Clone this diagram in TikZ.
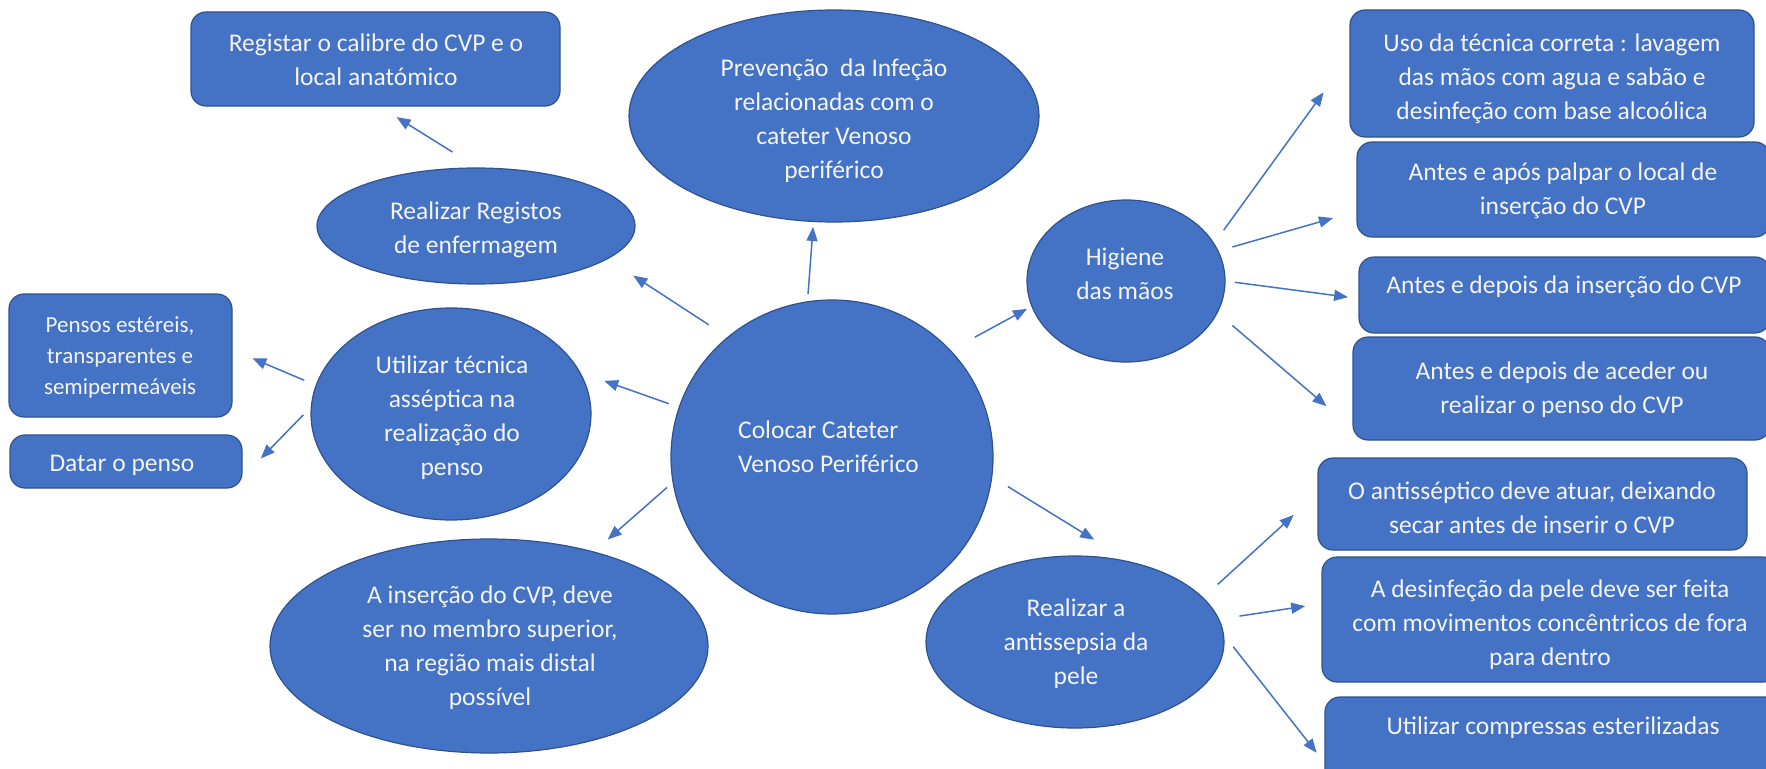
\documentclass[tikz,border=0pt]{standalone}
\usepackage{fontspec}
\setmainfont{Carlito}
\usetikzlibrary{shapes.geometric,arrows.meta}
\definecolor{fillblue}{HTML}{4472C4}
\definecolor{edgeblue}{HTML}{2F528F}
\definecolor{txtwhite}{HTML}{F4F4F4}
\tikzset{
  oval/.style={ellipse,draw=edgeblue,fill=fillblue,line width=1.2pt,inner sep=0pt,outer sep=0pt},
  rbox/.style={rectangle,rounded corners=15pt,draw=edgeblue,fill=fillblue,line width=1.2pt,inner sep=0pt,outer sep=0pt},
  tx/.style={align=center,text=txtwhite,inner sep=0pt,font=\fontsize{25.5}{34}\selectfont},
  txs/.style={align=center,text=txtwhite,inner sep=0pt,font=\fontsize{23}{31}\selectfont},
  arr/.style={draw=fillblue,line width=1.5pt,-{Triangle[length=14pt,width=11pt]}}
}
\begin{document}
\begin{tikzpicture}[x=1pt,y=-1pt]
\useasboundingbox[fill=white] (0,0) rectangle (1766,768);
% ellipses
\node[oval,minimum width=410pt,minimum height=212pt] (prev) at (834,116) {};
\node[oval,minimum width=318pt,minimum height=116pt] (registos) at (476,226) {};
\node[oval,minimum width=280pt,minimum height=212pt] (utilizar) at (451,414) {};
\node[oval,minimum width=322pt,minimum height=314pt] (central) at (832,457) {};
\node[oval,minimum width=438pt,minimum height=214pt] (ainsercao) at (489,646) {};
\node[oval,minimum width=198pt,minimum height=162pt] (higiene) at (1126,281) {};
\node[oval,minimum width=298pt,minimum height=172pt] (antissepsia) at (1075,642) {};
% boxes
\node[rbox,minimum width=369pt,minimum height=94pt] (regbox) at (375.5,59) {};
\node[rbox,minimum width=223pt,minimum height=123pt] (pensos) at (120.5,355.5) {};
\node[rbox,minimum width=232pt,minimum height=53pt] (datar) at (126,461.5) {};
\node[rbox,minimum width=404pt,minimum height=127pt] (uso) at (1552,73.5) {};
\node[rbox,minimum width=413pt,minimum height=95pt] (apos) at (1563.5,189.5) {};
\node[rbox,minimum width=411pt,minimum height=76pt] (insercao) at (1564.5,295) {};
\node[rbox,minimum width=417pt,minimum height=103pt] (aceder) at (1561.5,388.5) {};
\node[rbox,minimum width=429pt,minimum height=92pt] (antisseptico) at (1532.5,504) {};
\node[rbox,minimum width=456pt,minimum height=125pt] (desinf) at (1550,619.5) {};
\node[rbox,minimum width=455pt,minimum height=93pt] (compr) at (1552.5,743.5) {};
% texts
\node[tx] (t-prev) at (834,121) {Prevenção\ \ da Infeção\\relacionadas com o\\cateter Venoso\\periférico};
\node[tx] (t-registos) at (476,229.5) {Realizar Registos\\de enfermagem};
\node[tx] (t-utilizar) at (452,418) {Utilizar técnica\\asséptica na\\realização do\\penso};
\node[tx,align=left,anchor=west] (t-central) at (738,447) {Colocar Cateter\\Venoso Periférico};
\node[tx] (t-ainsercao) at (490,648) {A inserção do CVP, deve\\ser no membro superior,\\na região mais distal\\possível};
\node[tx] (t-higiene) at (1125,274) {Higiene\\das mãos};
\node[tx] (t-antissepsia) at (1076,644) {Realizar a\\antissepsia da\\pele};
\node[tx] (t-regbox) at (376,60) {Registar o calibre do CVP e o\\local anatómico};
\node[txs] (t-pensos) at (120,357) {Pensos estéreis,\\transparentes e\\semipermeáveis};
\node[tx] (t-datar) at (122,465) {Datar o penso};
\node[tx] (t-uso) at (1552,79) {Uso da técnica correta : lavagem\\das mãos com agua e sabão e\\desinfeção com base alcoólica};
\node[tx] (t-apos) at (1563,191) {Antes e após palpar o local de\\inserção do CVP};
\node[tx] (t-insercao) at (1564,287) {Antes e depois da inserção do CVP};
\node[tx] (t-aceder) at (1562,390) {Antes e depois de aceder ou\\realizar o penso do CVP};
\node[tx] (t-antisseptico) at (1532,508) {O antisséptico deve atuar, deixando\\secar antes de inserir o CVP};
\node[tx] (t-desinf) at (1550,625) {A desinfeção da pele deve ser feita\\com movimentos concêntricos de fora\\para dentro};
\node[tx] (t-compr) at (1553,728) {Utilizar compressas esterilizadas};
% connectors
\draw[arr,shorten <=30pt,shorten >=21pt] (registos.88.6) -- (regbox.-86.5);
\draw[arr,shorten <=23pt,shorten >=31pt] (central.131.7) -- (registos.-14.9);
\draw[arr,shorten <=8pt,shorten >=5.5pt] (central.99.4) -- (prev.-101);
\draw[arr,shorten <=11pt,shorten >=26pt] (central.162.6) -- (utilizar.18.1);
\draw[arr,shorten <=13pt,shorten >=22pt] (utilizar.168) -- (pensos.3.8);
\draw[arr,shorten <=11.5pt,shorten >=27pt] (utilizar.177.9) -- (datar.-8.6);
\draw[arr,shorten <=8pt,shorten >=19pt] (central.189.2) -- (ainsercao.42.8);
\draw[arr,shorten <=28pt,shorten >=5.6pt] (central.42) -- (higiene.-165);
\draw[arr,shorten <=19pt,shorten >=43pt] (central.-7.5) -- (antissepsia.55);
\draw[arr,shorten <=16.7pt,shorten >=45pt] (higiene.23.9) -- (uso.175.8);
\draw[arr,shorten <=15pt,shorten >=25pt] (higiene.18.8) -- (apos.186.4);
\draw[arr,shorten <=10pt,shorten >=11pt] (higiene.0.35) -- (insercao.181.9);
\draw[arr,shorten <=20pt,shorten >=35pt] (higiene.-19.6) -- (aceder.-169.7);
\draw[arr,shorten <=20pt,shorten >=33pt] (antissepsia.19.4) -- (antisseptico.177.6);
\draw[arr,shorten <=21pt,shorten >=17pt] (antissepsia.9.2) -- (desinf.176.3);
\draw[arr,shorten <=16pt,shorten >=13.5pt] (antissepsia.3.7) -- (compr.-175.1);
\end{tikzpicture}
\end{document}
